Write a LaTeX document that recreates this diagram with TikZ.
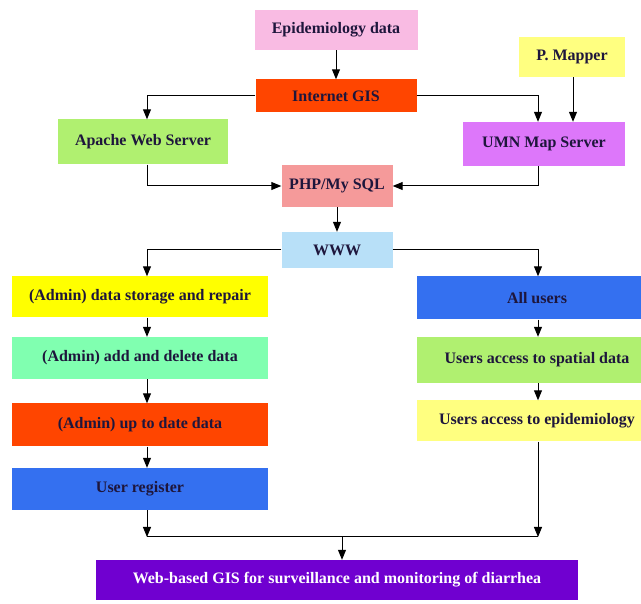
\documentclass[tikz,border=0pt]{standalone}
\usepackage{fontspec}
\setmainfont{Liberation Serif}
\usetikzlibrary{arrows.meta, positioning}
\definecolor{epipink}{RGB}{249,187,227}
\definecolor{mapyellow}{RGB}{255,255,128}
\definecolor{gisred}{RGB}{255,69,0}
\definecolor{servgreen}{RGB}{176,240,112}
\definecolor{umnviolet}{RGB}{221,119,250}
\definecolor{phpsalmon}{RGB}{245,154,154}
\definecolor{wwwblue}{RGB}{184,224,248}
\definecolor{adminyellow}{RGB}{255,255,0}
\definecolor{adminaqua}{RGB}{128,255,176}
\definecolor{userblue}{RGB}{52,112,240}
\definecolor{finalpurple}{RGB}{112,0,208}
\definecolor{inktext}{RGB}{30,22,60}
\tikzset{
  flowbox/.style = {inner sep=0, text=inktext, font=\bfseries\fontsize{16}{18}\selectfont},
  flow/.style = {line width=1pt, -{Triangle[length=10pt, width=8pt]}},
  link/.style = {line width=1pt},
}

\begin{document}
\begin{tikzpicture}[x=1pt, y=-1pt]
        \useasboundingbox (0,0) rectangle (641,604);
        % upper part
        \node (epi) [flowbox, fill=epipink, minimum width=163, minimum height=40] at (336,30) {Epidemiology data};
        \node (mapper) [flowbox, fill=mapyellow, minimum width=106, minimum height=40] at (572,57) {P. Mapper};
        \node (gis) [flowbox, fill=gisred, minimum width=161, minimum height=33] at (336,96) {Internet GIS};
        \node (apache) [flowbox, fill=servgreen, minimum width=170, minimum height=45] at (143,142) {Apache Web Server};
        \node (umn) [flowbox, fill=umnviolet, minimum width=162, minimum height=44] at (544,144) {UMN Map Server};
        \node (php) [flowbox, fill=phpsalmon, minimum width=111, minimum height=42] at (337,186) {PHP/My SQL};
        \node (www) [flowbox, fill=wwwblue, minimum width=111, minimum height=36] at (337,250) {WWW};

        \coordinate (lx) at (147,0);
        \coordinate (rx) at (538,0);
        \coordinate (px) at (573,0);

        \draw [flow] (epi) -- (gis);
        \draw [flow] (gis.west) -| (apache.north -| lx);
        \draw [flow] (gis.east) -| (umn.north -| rx);
        \draw [flow] (mapper.south -| px) -- (umn.north -| px);
        \draw [flow] (apache.south -| lx) |- (php.west);
        \draw [flow] (umn.south -| rx) |- (php.east);
        \draw [flow] (php) -- (www);

        % two columns
        \foreach \N/\y/\h/\c/\t in {
          store/297/41/adminyellow/(Admin) data storage and repair,
          add/358/42/adminaqua/(Admin) add and delete data,
          uptodate/425/43/gisred/(Admin) up to date data,
          register/489/42/userblue/User register%
        }{
          \node (\N) [flowbox, fill=\c, minimum width=256, minimum height=\h] at (140,\y) {\t};
        }
        \foreach \N/\y/\h/\c/\t in {
          allusers/298/43/userblue/All users,
          spatial/360/46/servgreen/Users access to spatial data,
          epiaccess/421/41/mapyellow/Users access to epidemiology%
        }{
          \node (\N) [flowbox, fill=\c, minimum width=240, minimum height=\h] at (537,\y) {\t};
        }

        \draw [flow] (www.west) -| (store.north -| lx);
        \draw [flow] (www.east) -| (allusers.north -| rx);
        \foreach \A/\B in {store/add, add/uptodate, uptodate/register}{
          \draw [flow] (\A.south -| lx) -- (\B.north -| lx);
        }
        \foreach \A/\B in {allusers/spatial, spatial/epiaccess}{
          \draw [flow] (\A.south -| rx) -- (\B.north -| rx);
        }

        % bottom
        \node (final) [flowbox, fill=finalpurple, text=white, minimum width=482, minimum height=40] at (337,580) {Web-based GIS for surveillance and monitoring of diarrhea};
        \coordinate (joinL) at (147,537);
        \coordinate (joinR) at (538,537);
        \coordinate (joinM) at (342,537);
        \draw [flow] (register.south -| lx) -- (joinL);
        \draw [flow] (epiaccess.south -| rx) -- (joinR);
        \draw [link] (joinL) -- (joinR);
        \draw [flow] (joinM) -- (final.north -| joinM);
      \end{tikzpicture}
\end{document}
